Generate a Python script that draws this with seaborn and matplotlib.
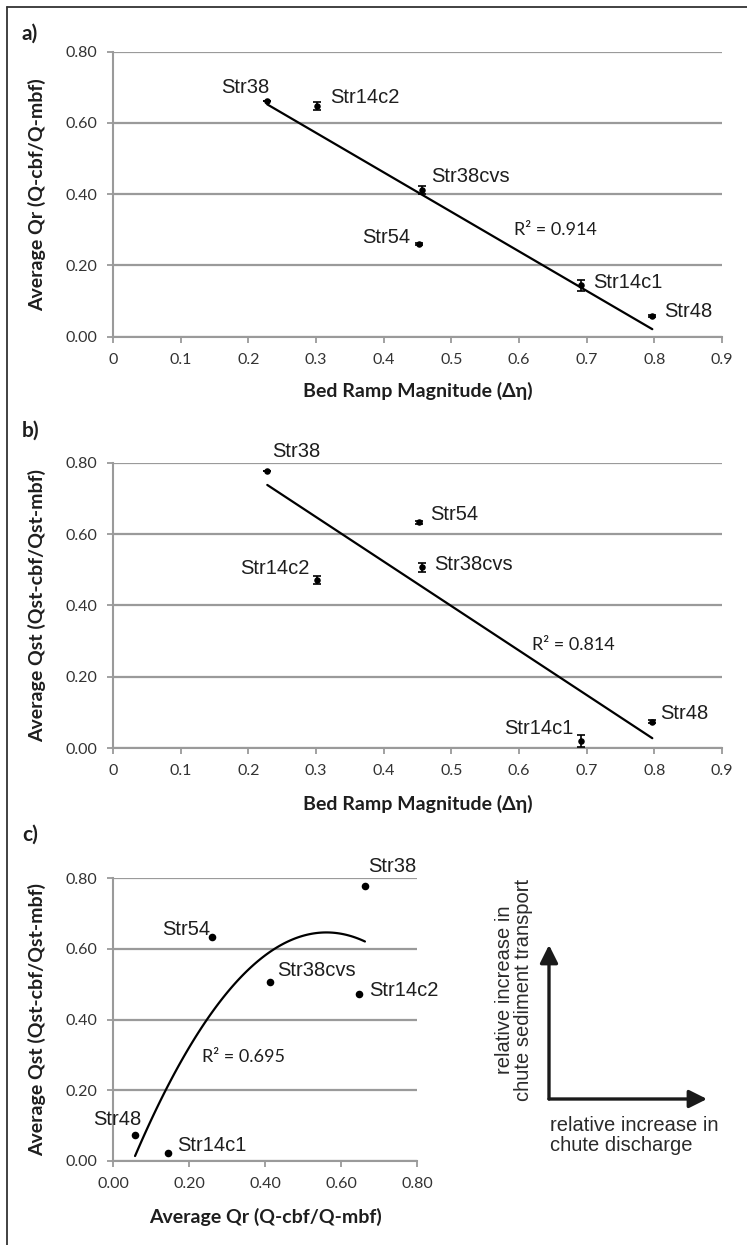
import numpy as np
import pandas as pd
import matplotlib
matplotlib.use("Agg")
import matplotlib.pyplot as plt
import seaborn as sns
from matplotlib.lines import Line2D
from matplotlib.patches import FancyArrowPatch
from matplotlib.ticker import FormatStrFormatter

# ---------------- data ----------------
sites = ["Str38", "Str14c2", "Str38cvs", "Str54", "Str14c1", "Str48"]
ramp = [0.228, 0.301, 0.456, 0.452, 0.691, 0.797]          # bed ramp magnitude (Δη)
qr = [0.663, 0.648, 0.412, 0.261, 0.144, 0.058]            # average Qr
qr_err = [0.0, 0.011, 0.012, 0.003, 0.016, 0.004]
qst = [0.778, 0.472, 0.507, 0.633, 0.021, 0.074]           # average Qst
qst_err = [0.0, 0.012, 0.012, 0.004, 0.016, 0.004]
r2_labels = ["R\u00b2 = 0.914", "R\u00b2 = 0.814", "R\u00b2 = 0.695"]
ramp_ticks = [0, 0.1, 0.2, 0.3, 0.4, 0.5, 0.6, 0.7, 0.8, 0.9]
ramp_ticklabels = ["0", "0.1", "0.2", "0.3", "0.4", "0.5", "0.6", "0.7", "0.8", "0.9"]
q_ticks = [0.0, 0.2, 0.4, 0.6, 0.8]

df = pd.DataFrame({"site": sites, "ramp": ramp, "qr": qr, "qr_err": qr_err,
                   "qst": qst, "qst_err": qst_err})

# ---------------- style ----------------
sns.set_style("white")
plt.rcParams["font.family"] = ["Lato", "DejaVu Sans"]
GRID = "#9a9a9a"
TXT = "#1e1e1e"
ANN_FONT = ["Liberation Sans", "DejaVu Sans"]

W, H = 747, 1245
fig = plt.figure(figsize=(W / 100, H / 100), dpi=100)


def fx(px):
    return px / W


def fy(py):
    return 1 - py / H


def make_ax(left, right, top, bottom):
    return fig.add_axes([fx(left), fy(bottom), fx(right) - fx(left), fy(top) - fy(bottom)])


ax_a = make_ax(113, 722, 51.7, 336.7)
ax_b = make_ax(113, 722, 462.7, 748.3)
ax_c = make_ax(113, 417, 878.3, 1160.7)


def style_axes(ax):
    for s in ["top", "right"]:
        ax.spines[s].set_visible(False)
    for s in ["left", "bottom"]:
        ax.spines[s].set_color(GRID)
        ax.spines[s].set_linewidth(1.5)
    ax.set_ylim(0, 0.8)
    ax.set_yticks(q_ticks)
    ax.yaxis.set_major_formatter(FormatStrFormatter("%.2f"))
    ax.grid(axis="y", color=GRID, linewidth=1.6)
    ax.grid(axis="x", visible=False)
    ax.tick_params(axis="both", direction="out", length=4.5, width=1.3, color=GRID,
                   labelsize=11.5, labelcolor="#333333", pad=7, left=True, bottom=True)
    ax.set_axisbelow(True)


for ax in (ax_a, ax_b, ax_c):
    style_axes(ax)

for ax in (ax_a, ax_b):
    ax.set_xlim(0, 0.9)
    ax.set_xticks(ramp_ticks)
    ax.set_xticklabels(ramp_ticklabels)
ax_c.set_xlim(0, 0.8)
ax_c.set_xticks(q_ticks)
ax_c.xaxis.set_major_formatter(FormatStrFormatter("%.2f"))

label_kw = dict(fontsize=14, fontweight="bold", color=TXT)

# ---------------- panel a ----------------
ax_a.errorbar(df["ramp"], df["qr"], yerr=df["qr_err"], fmt="none", ecolor="black",
              elinewidth=1.2, capsize=3, capthick=1.2, zorder=3)
sns.scatterplot(data=df, x="ramp", y="qr", ax=ax_a, color="black", s=22,
                edgecolor="black", linewidth=0, zorder=4)
sns.regplot(data=df, x="ramp", y="qr", ax=ax_a, scatter=False, ci=None, truncate=True,
            line_kws=dict(color="black", lw=1.6, zorder=3))
ax_a.set_xlabel("Bed Ramp Magnitude (\u0394\u03b7)", **label_kw)
ax_a.set_ylabel("Average Qr (Q-cbf/Q-mbf)", **label_kw)

# ---------------- panel b ----------------
ax_b.errorbar(df["ramp"], df["qst"], yerr=df["qst_err"], fmt="none", ecolor="black",
              elinewidth=1.2, capsize=3, capthick=1.2, zorder=3)
sns.scatterplot(data=df, x="ramp", y="qst", ax=ax_b, color="black", s=22,
                edgecolor="black", linewidth=0, zorder=4)
sns.regplot(data=df, x="ramp", y="qst", ax=ax_b, scatter=False, ci=None, truncate=True,
            line_kws=dict(color="black", lw=1.6, zorder=3))
ax_b.set_xlabel("Bed Ramp Magnitude (\u0394\u03b7)", **label_kw)
ax_b.set_ylabel("Average Qst (Qst-cbf/Qst-mbf)", **label_kw)

# ---------------- panel c ----------------
sns.scatterplot(data=df, x="qr", y="qst", ax=ax_c, color="black", s=30,
                edgecolor="black", linewidth=0, zorder=4)
sns.regplot(data=df, x="qr", y="qst", ax=ax_c, scatter=False, ci=None, order=2,
            truncate=True, line_kws=dict(color="black", lw=1.6, zorder=3))
ax_c.set_xlim(0, 0.8)
ax_c.set_ylim(0, 0.8)
ax_c.set_xlabel("Average Qr (Q-cbf/Q-mbf)", **label_kw)
ax_c.set_ylabel("Average Qst (Qst-cbf/Qst-mbf)", **label_kw)

# axis label placement
for ax, xl_y in ((ax_a, -0.16), (ax_b, -0.162)):
    ax.yaxis.set_label_coords(-0.11, 0.5)
    ax.xaxis.set_label_coords(0.5, xl_y)
ax_c.yaxis.set_label_coords(-0.22, 0.5)
ax_c.xaxis.set_label_coords(0.5, -0.168)

# ---------------- point labels (layout offsets in pixels) ----------------
offsets_a = {"Str38": ("right", 2, 13), "Str14c2": ("left", 13, 8), "Str38cvs": ("left", 10, 13),
             "Str54": ("right", -9, 6), "Str14c1": ("left", 13, 3), "Str48": ("left", 12, 5)}
offsets_b = {"Str38": ("left", 5, 19), "Str54": ("left", 11, 8), "Str38cvs": ("left", 13, 3),
             "Str14c2": ("right", -7, 11), "Str14c1": ("right", -7, 12), "Str48": ("left", 8, 8)}
offsets_c = {"Str38": ("left", 3, 20), "Str54": ("right", -2, 8), "Str38cvs": ("left", 8, 11),
             "Str14c2": ("left", 10, 4), "Str48": ("right", 6, 15), "Str14c1": ("left", 9, 8)}


def label_points(ax, xs, ys, offsets):
    for name, x, y in zip(sites, xs, ys):
        ha, dx, dy = offsets[name]
        ax.annotate(name, (x, y), xytext=(dx, dy), textcoords="offset pixels",
                    ha=ha, va="center", fontsize=14.5, family=ANN_FONT, color=TXT)


label_points(ax_a, ramp, qr, offsets_a)
label_points(ax_b, ramp, qst, offsets_b)
label_points(ax_c, qr, qst, offsets_c)

r2_kw = dict(ha="left", va="center", fontsize=13, color=TXT)
ax_a.text(0.593, 0.299, r2_labels[0], **r2_kw)
ax_b.text(0.619, 0.289, r2_labels[1], **r2_kw)
ax_c.text(0.233, 0.295, r2_labels[2], **r2_kw)

# ---------------- panel letters ----------------
for txt, py in (("a)", 34), ("b)", 431), ("c)", 835)):
    fig.text(fx(22), fy(py), txt, ha="left", va="center", fontsize=15,
             fontweight="bold", color=TXT)

# ---------------- conceptual arrows ----------------
corner = (fx(549), fy(1099))
for tip in ((fx(549), fy(945)), (fx(707), fy(1099))):
    fig.add_artist(FancyArrowPatch(corner, tip, transform=fig.transFigure,
                                   arrowstyle="-|>,head_length=0.9,head_width=0.45",
                                   mutation_scale=12, lw=2.4, color="#1a1a1a",
                                   shrinkA=0, shrinkB=0))
fig.text(fx(514), fy(1101), "relative increase in\nchute sediment transport", rotation=90,
         ha="center", va="bottom", fontsize=14.5, family=ANN_FONT, color="#2a2a2a",
         linespacing=1.05)
fig.text(fx(550), fy(1116), "relative increase in\nchute discharge", ha="left", va="top",
         fontsize=14.5, family=ANN_FONT, color="#2a2a2a", linespacing=1.05)

# ---------------- frame lines ----------------
fig.add_artist(Line2D([fx(7), fx(7)], [0, fy(7)], transform=fig.transFigure,
                      color="#333333", lw=1.3))
fig.add_artist(Line2D([fx(7), 1], [fy(7), fy(7)], transform=fig.transFigure,
                      color="#333333", lw=1.3))

fig.savefig("out.png", dpi=100, facecolor="white")
